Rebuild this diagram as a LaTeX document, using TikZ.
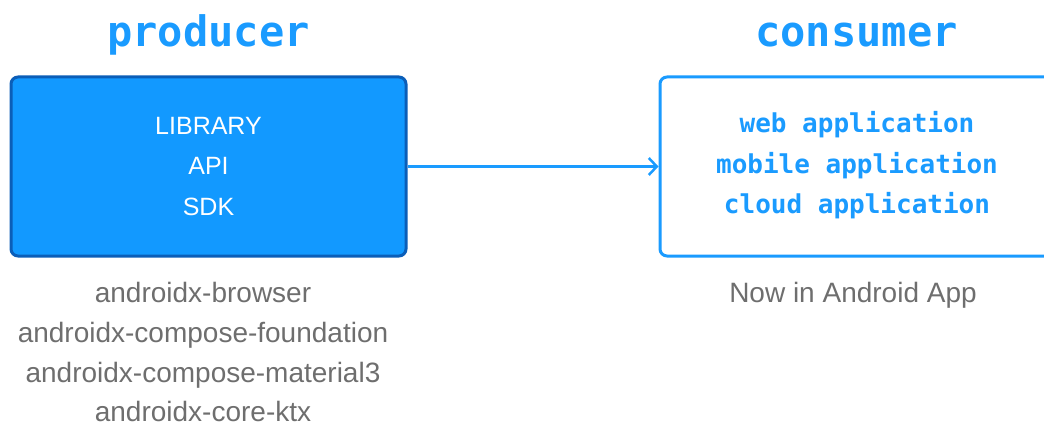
\documentclass[tikz,border=0pt]{standalone}
\usepackage{fontspec}
\setmainfont{Liberation Sans}
\newfontfamily\monof{DejaVu Sans Mono}
\usetikzlibrary{arrows.meta}
\definecolor{pfill}{HTML}{1299FF}
\definecolor{pborder}{HTML}{0B5EB8}
\definecolor{cblue}{HTML}{1A9BFF}
\definecolor{tgray}{HTML}{6E6E6E}
\tikzset{
  title/.style={anchor=base, text=cblue, font=\monof\bfseries\fontsize{42}{42}\selectfont, inner sep=0},
  boxp/.style={draw=pborder, fill=pfill, line width=3pt, rounded corners=7pt, minimum width=395pt, minimum height=179pt, inner sep=0},
  boxc/.style={draw=cblue, fill=white, line width=3pt, rounded corners=7pt, minimum width=420pt, minimum height=179pt, inner sep=0},
  ptext/.style={anchor=base, text=white, font=\fontsize{25}{25}\selectfont, inner sep=0},
  ctext/.style={anchor=base, text=cblue, font=\monof\bfseries\fontsize{26}{26}\selectfont, inner sep=0},
  gtext/.style={anchor=base, text=tgray, font=\fontsize{28}{28}\selectfont, inner sep=0},
  conn/.style={draw=cblue, line width=2.5pt, -{Straight Barb[length=8pt, width=17pt, line width=2.5pt]}}
}
\begin{document}
\begin{tikzpicture}[x=1pt, y=-1pt]
\useasboundingbox (0,0) rectangle (1044,425);
\clip (0,0) rectangle (1044,425);
\node[title] (tp) at (208.5,47) {producer};
\node[title] (tc) at (856.5,47) {consumer};
\node[boxp] (prod) at (208.5,166.5) {};
\node[boxc] (cons) at (870,166.5) {};
\node[ptext] (p1) at (208.5,135) {LIBRARY};
\node[ptext] (p2) at (208.5,175) {API};
\node[ptext] (p3) at (208.5,215) {SDK};
\node[ctext] (c1) at (857,133) {web application};
\node[ctext] (c2) at (857,173) {mobile application};
\node[ctext] (c3) at (857,213) {cloud application};
\node[gtext] (g1) at (203,302) {androidx-browser};
\node[gtext] (g2) at (203,342) {androidx-compose-foundation};
\node[gtext] (g3) at (203,382) {androidx-compose-material3};
\node[gtext] (g4) at (203,421) {androidx-core-ktx};
\node[gtext] (n1) at (853,302) {Now in Android App};
\draw[conn] (prod.east) -- (cons.west);
\end{tikzpicture}
\end{document}
